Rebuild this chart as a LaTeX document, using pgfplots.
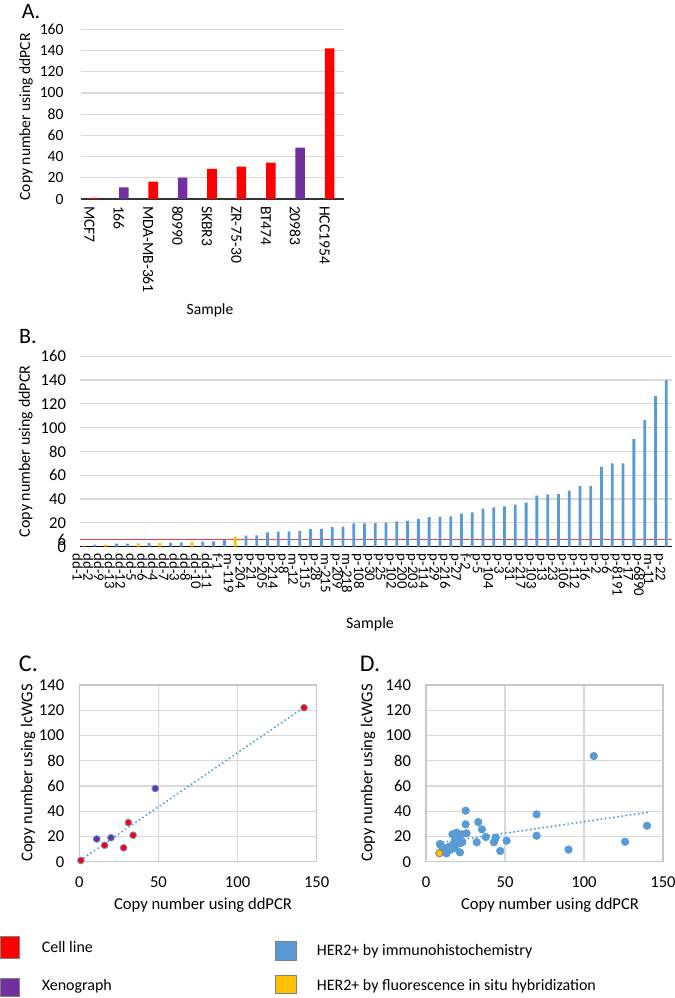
\documentclass[border=0pt]{standalone}
\usepackage{pgfplots}
\pgfplotsset{compat=1.18}
\usepackage{fontspec}
\setmainfont{Carlito}
\definecolor{cred}{HTML}{FF0000}
\definecolor{cpurple}{HTML}{7030A0}
\definecolor{cblue}{HTML}{5B9BD5}
\definecolor{cyellow}{HTML}{FFC000}
\definecolor{cgrid}{HTML}{D9D9D9}
\definecolor{cbox}{HTML}{C8C8C8}
\definecolor{cline}{HTML}{E8474C}
\pgfplotsset{
  base/.style={scale only axis, anchor=south west,
    /pgf/number format/assume math mode=true,
    major tick length=0pt, tick style={draw=none},
    grid style={cgrid, line width=0.6pt}},
  small/.style={tick label style={font=\fontsize{8.3}{10}\selectfont}},
}
\begin{document}
\begin{tikzpicture}
\useasboundingbox (0pt,0pt) rectangle (337.5pt,499pt);
% ---------------- Panel A ----------------
\begin{axis}[base, at={(40.3pt,399.5pt)}, width=131.7pt, height=84.85pt,
  xmin=-0.47, xmax=8.49, ymin=0, ymax=160,
  ytick={0,20,...,160}, ymajorgrids,
  xtick={0,...,8},
  xticklabels={MCF7,166,MDA-MB-361,80990,SKBR3,ZR-75-30,BT474,20983,HCC1954},
  tick label style={font=\fontsize{7.8}{9}\selectfont},
  xticklabel style={rotate=-90, anchor=west, yshift=-2.5pt},
  yticklabel style={xshift=-5pt},
  axis x line*=bottom, axis y line*=left,
  x axis line style={-, black!80, line width=0.7pt},
  y axis line style={draw=none}]
\addplot[ybar, bar shift=0pt, bar width=4.8pt, fill=cred, draw=none]
  coordinates {(0,1) (2,16.3) (4,28.3) (5,30.5) (6,34.3) (8,142)};
\addplot[ybar, bar shift=0pt, bar width=4.8pt, fill=cpurple, draw=none]
  coordinates {(1,11) (3,20.1) (7,48.4)};
\end{axis}
\node[font=\fontsize{11}{13}\selectfont] at (15.5pt,493pt) {A.};
\node[rotate=90, font=\fontsize{7.8}{9}\selectfont] at (13pt,440.6pt) {Copy number using ddPCR};
\node[font=\fontsize{7.8}{9}\selectfont] at (105pt,344pt) {Sample};
% ---------------- Panel B ----------------
\begin{axis}[base, small, at={(40pt,225.65pt)}, width=295.85pt, height=95.2pt,
  xmin=-0.4, xmax=54.51, ymin=0, ymax=160,
  ytick={0,6,20,40,...,160}, ymajorgrids,
  xtick={0,...,54},
  xticklabels={dd-1,dd-2,dd-9,dd-13,dd-12,dd-5,dd-6,dd-4,dd-7,dd-3,dd-8,dd-10,dd-11,f-1,m-119,p-204,p-21,p-205,p-214,p-8,m-12,p-115,p-28,m-215,p-209,m-218,p-108,p-30,p-25,p-102,p-200,p-203,p-114,p-29,p-216,p-27,f-2,p-5,p-104,p-3,p-31,p-217,p-103,p-13,p-23,p-106,p-112,p-16,p-2,p-6,p-8191,p-17,p-6890,m-11,p-22},
  xticklabel style={rotate=-90, anchor=west, yshift=-3.3pt, font=\fontsize{7.4}{8}\selectfont},
  yticklabel style={xshift=-3.5pt},
  axis x line*=bottom, axis y line*=left,
  x axis line style={-, black, line width=0.8pt},
  y axis line style={draw=none}]
\addplot[cline, line width=0.9pt] coordinates {(-0.4,6) (54.51,6)};
\addplot[ybar, bar shift=0pt, bar width=1.4pt, fill=cblue, draw=none]
  coordinates {(1,1.7) (3,2.5) (4,2.5) (6,2.9) (8,3.4) (9,3.6) (11,4.2) (12,4.5) (13,5.6)
  (15,9.2) (16,9.5) (17,12) (18,12.6) (19,12.9) (20,13.4) (21,14.8) (22,14.9) (23,16.5)
  (24,16.8) (25,19.6) (26,19.7) (27,19.9) (28,20.2) (29,21.3) (30,21.8) (31,23.2) (32,24.9)
  (33,25) (34,25.5) (35,27.7) (36,28.9) (37,31.9) (38,33) (39,33.9) (40,35.3) (41,37)
  (42,42.9) (43,44) (44,44.1) (45,47.1) (46,51) (47,51.1) (48,67) (49,70) (50,70.1)
  (51,90.5) (52,106.4) (53,126.6) (54,140)};
\addplot[ybar, bar shift=0pt, bar width=1.4pt, fill=cyellow, draw=none]
  coordinates {(0,1) (2,1.8) (5,2.8) (7,3) (10,3.9) (14,8.4)};
\end{axis}
\node[font=\fontsize{11}{13}\selectfont] at (14pt,330.8pt) {B.};
\node[rotate=90, font=\fontsize{8}{10}\selectfont] at (12.8pt,273.3pt) {Copy number using ddPCR};
\node[font=\fontsize{8}{10}\selectfont] at (185pt,187pt) {Sample};
% ---------------- Panel C ----------------
\begin{axis}[base, small, at={(39.65pt,68.15pt)}, width=118.7pt, height=88.35pt,
  xmin=0, xmax=150, ymin=0, ymax=140,
  xtick={0,50,100,150}, ytick={0,20,...,140}, grid=major,
  axis line style={cbox, line width=0.6pt},
  xticklabel style={yshift=-4pt}, yticklabel style={xshift=-4pt}]
\addplot[only marks, mark=*, mark size=1.7pt, mark options={fill=cred, draw=cblue, line width=0.4pt}]
  coordinates {(1,1) (16,13) (28,11) (31,31) (34,21) (142,122)};
\addplot[only marks, mark=*, mark size=1.7pt, mark options={fill=cpurple, draw=cblue, line width=0.4pt}]
  coordinates {(11,18) (20,19) (48,58)};
\addplot[cblue, line width=1.1pt, line cap=round, dash pattern=on 0pt off 2.1pt]
  coordinates {(0.8,1.3) (141.6,122)};
\end{axis}
\node[font=\fontsize{12}{14}\selectfont] at (14.2pt,167pt) {C.};
\node[rotate=90, font=\fontsize{8.3}{10}\selectfont] at (14pt,112.5pt) {Copy number using lcWGS};
\node[font=\fontsize{8.3}{10}\selectfont] at (101.5pt,46.2pt) {Copy number using ddPCR};
% ---------------- Panel D ----------------
\begin{axis}[base, small, at={(213pt,68.15pt)}, width=118.5pt, height=88.35pt,
  xmin=0, xmax=150, ymin=0, ymax=140,
  xtick={0,50,100,150}, ytick={0,20,...,140}, grid=major,
  axis line style={cbox, line width=0.6pt},
  xticklabel style={yshift=-4pt}, yticklabel style={xshift=-4pt}]
\addplot[only marks, mark=*, mark size=1.85pt, mark options={fill=cblue, draw=cblue}]
  coordinates {(106.2,83.7) (70,37.5) (70,20.6) (139.9,28.5) (126,15.8) (90.2,9.6)
  (51,16.6) (47,8.5) (44.1,19) (43,15.4) (37.8,19.6) (35.4,25.6) (33.1,31.4) (32.1,15.4)
  (25.1,40.4) (25.1,29.6) (25.7,22.5) (22.6,21.7) (19.4,23) (16.7,21.7) (20.5,18.5)
  (21.5,14.6) (21.5,7.4) (18.4,17.2) (17.3,13.8) (14.7,11.9) (15.2,9.3) (13.1,8.5)
  (9.9,7.9) (9.3,13.2) (12,10.6) (18.3,10.6) (13,6.6) (11,10.6) (8.8,14) (23,15.5) (20,20)};
\addplot[only marks, mark=*, mark size=1.85pt, mark options={fill=cyellow, draw=gray, line width=0.4pt}]
  coordinates {(8.4,6.7)};
\addplot[cblue, line width=1.1pt, line cap=round, dash pattern=on 0pt off 2.1pt]
  coordinates {(8.4,15) (140,39)};
\end{axis}
\node[font=\fontsize{12}{14}\selectfont] at (185pt,167pt) {D.};
\node[rotate=90, font=\fontsize{8.3}{10}\selectfont] at (184pt,112.5pt) {Copy number using lcWGS};
\node[font=\fontsize{8.3}{10}\selectfont] at (275pt,46.5pt) {Copy number using ddPCR};
% ---------------- Legend ----------------
\begin{scope}[font=\fontsize{8}{10}\selectfont]
\filldraw[fill=cred, draw=black!50, line width=0.4pt] (0.3pt,19.9pt) rectangle (9.8pt,30.6pt);
\filldraw[fill=cpurple, draw=black!50, line width=0.4pt] (0.3pt,0.7pt) rectangle (9.8pt,10pt);
\filldraw[fill=cblue, draw=black!50, line width=0.4pt] (137.7pt,19pt) rectangle (148pt,28.2pt);
\filldraw[fill=cyellow, draw=black!50, line width=0.4pt] (137.7pt,2.5pt) rectangle (148pt,11.5pt);
\node[anchor=west, inner sep=0pt] at (20.7pt,25.3pt) {Cell line};
\node[anchor=west, inner sep=0pt] at (20.7pt,5.7pt) {Xenograph};
\node[anchor=west, inner sep=0pt] at (158.2pt,23.5pt) {HER2+ by immunohistochemistry};
\node[anchor=west, inner sep=0pt] at (158.2pt,5.7pt) {HER2+ by fluorescence in situ hybridization};
\end{scope}
\end{tikzpicture}
\end{document}
